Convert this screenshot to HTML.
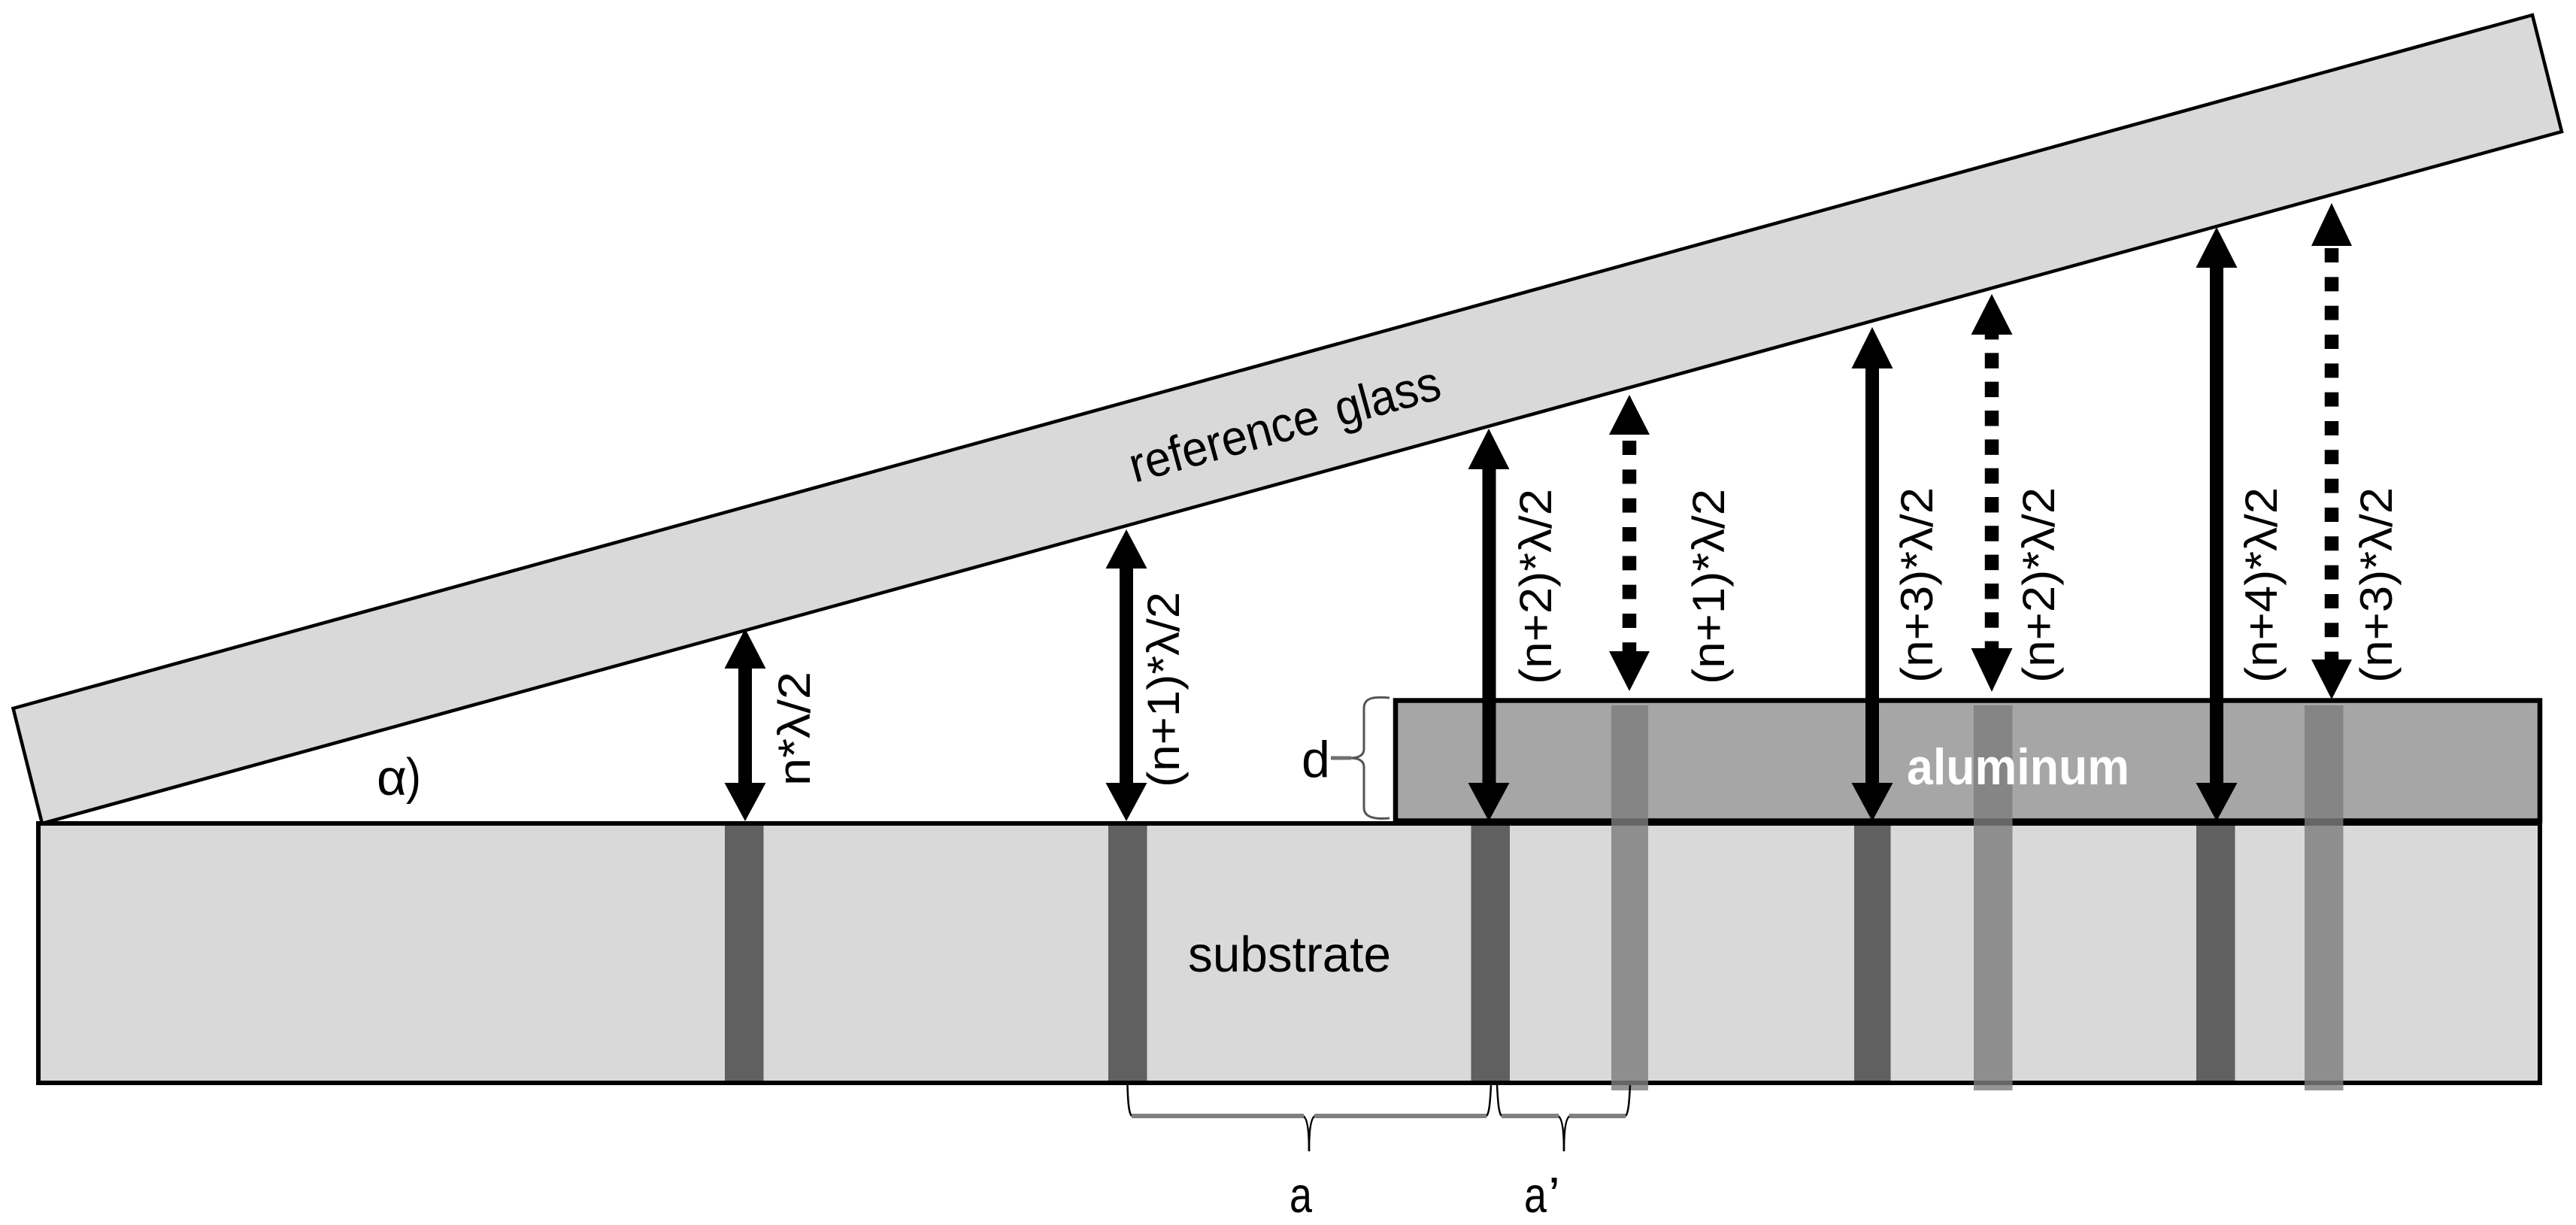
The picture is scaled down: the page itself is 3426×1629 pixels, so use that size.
<!DOCTYPE html>
<html>
<head>
<meta charset="utf-8">
<style>
html,body{margin:0;padding:0;background:#fff;width:3426px;height:1629px;overflow:hidden}
svg{display:block}
text{font-family:"Liberation Sans",sans-serif;fill:#000}
</style>
</head>
<body>
<svg width="3426" height="1629" viewBox="0 0 3426 1629" xmlns="http://www.w3.org/2000/svg">
<rect width="3426" height="1629" fill="#fff"/>

<!-- reference glass -->
<polygon points="17.5,942 3368,20 3407,175 56,1095" fill="#d9d9d9" stroke="#000" stroke-width="4.5" stroke-linejoin="miter"/>
<text x="1509" y="642" font-size="66" word-spacing="8" transform="rotate(-15.35 1509 642)" textLength="426" lengthAdjust="spacingAndGlyphs">reference glass</text>

<!-- aluminum -->
<rect x="1856" y="931.5" width="1522" height="160" fill="#a6a6a6" stroke="#000" stroke-width="6.5"/>
<!-- substrate -->
<rect x="51" y="1095" width="3327" height="345" fill="#d9d9d9" stroke="#000" stroke-width="6"/>

<!-- dark bands -->
<g fill="#606060">
<rect x="964" y="1098" width="51.5" height="339"/>
<rect x="1474" y="1098" width="51.5" height="339"/>
<rect x="1956.5" y="1098" width="51.5" height="339"/>
<rect x="2466" y="1098" width="48.5" height="339"/>
<rect x="2921" y="1098" width="51.5" height="339"/>
</g>
<!-- light bands -->
<g fill="#7d7d7d" fill-opacity="0.816">
<rect x="2143" y="938" width="49" height="512"/>
<rect x="2625" y="938" width="51.5" height="512"/>
<rect x="3065" y="938" width="51.5" height="512"/>
</g>

<!-- solid arrows -->
<g fill="#000" stroke="none">
<rect x="982" y="880" width="18" height="170"/>
<polygon points="991,836 1018.5,889 963.5,889"/>
<polygon points="991,1092 1018.5,1041 963.5,1041"/>

<rect x="1489" y="745" width="18" height="305"/>
<polygon points="1498,704 1525.5,756 1470.5,756"/>
<polygon points="1498,1092 1525.5,1041 1470.5,1041"/>

<rect x="1971.5" y="615" width="18" height="435"/>
<polygon points="1980,570 2007.5,624 1952.5,624"/>
<polygon points="1980,1092 2007.5,1041 1952.5,1041"/>

<rect x="2481" y="480" width="18" height="570"/>
<polygon points="2490,435 2517.5,490 2462.5,490"/>
<polygon points="2490,1092 2517.5,1041 2462.5,1041"/>

<rect x="2939" y="346" width="18" height="704"/>
<polygon points="2948,302 2975.5,356 2920.5,356"/>
<polygon points="2948,1092 2975.5,1041 2920.5,1041"/>

<!-- dotted arrow heads -->
<polygon points="2167,525 2194,578 2140,578"/>
<polygon points="2167,919 2194,866 2140,866"/>
<polygon points="2649,391 2676.5,445 2621.5,445"/>
<polygon points="2649,920 2676.5,862 2621.5,862"/>
<polygon points="3101,270 3128,327 3074,327"/>
<polygon points="3101,930 3128,877 3074,877"/>
</g>
<!-- dotted arrow shafts -->
<g stroke="#000" stroke-width="18.5" fill="none">
<line x1="2167" y1="586" x2="2167" y2="867" stroke-dasharray="19 19.33"/>
<line x1="2649" y1="431" x2="2649" y2="863" stroke-dasharray="20.5 17.83"/>
<line x1="3101" y1="330" x2="3101" y2="878" stroke-dasharray="19 19.33"/>
</g>

<!-- bottom braces -->
<g fill="none" stroke="#000" stroke-width="2.5">
<path d="M1499.5,1443 C1500,1462 1501,1480 1505,1484"/>
<path d="M1983,1443 C1982,1462 1981,1480 1977,1484"/>
<path d="M1991,1443 C1992,1462 1993,1480 1997,1484"/>
<path d="M2168,1443 C2167,1462 2166,1480 2162,1484"/>
<path d="M1733,1484 C1738,1486 1741,1500 1741,1531"/>
<path d="M1749,1484 C1744,1486 1741,1500 1741,1531"/>
<path d="M2072,1484 C2077,1486 2080,1500 2080,1531"/>
<path d="M2088,1484 C2083,1486 2080,1500 2080,1531"/>
</g>
<g fill="#808080">
<rect x="1505" y="1481" width="229" height="6"/>
<rect x="1748" y="1481" width="229" height="6"/>
<rect x="1997" y="1481" width="76" height="6"/>
<rect x="2087" y="1481" width="75" height="6"/>
</g>

<!-- d brace -->
<path d="M1848,928 C1826,926 1814,928 1814,942 L1814,996 C1814,1004 1808,1008 1795,1008 M1795,1008 C1808,1008 1814,1012 1814,1020 L1814,1074 C1814,1086 1826,1090 1848,1088" fill="none" stroke="#555" stroke-width="3"/>
<line x1="1770" y1="1008" x2="1797" y2="1008" stroke="#707070" stroke-width="5"/>

<!-- labels -->
<text x="501" y="1057" font-size="67" textLength="40" lengthAdjust="spacingAndGlyphs">α</text>
<text x="540" y="1055" font-size="67" textLength="20" lengthAdjust="spacingAndGlyphs">)</text>
<text x="1731" y="1033" font-size="68" textLength="38" lengthAdjust="spacingAndGlyphs">d</text>
<text x="1715" y="1612" font-size="67" textLength="30" lengthAdjust="spacingAndGlyphs">a</text>
<text x="2027" y="1612" font-size="67" textLength="30" lengthAdjust="spacingAndGlyphs">a</text>
<text x="2059" y="1612" font-size="67" textLength="16" lengthAdjust="spacingAndGlyphs">’</text>
<text x="1580" y="1292" font-size="67" textLength="270" lengthAdjust="spacingAndGlyphs">substrate</text>
<text x="2536" y="1043" font-size="68" font-weight="bold" textLength="296" lengthAdjust="spacingAndGlyphs" style="fill:#fff">aluminum</text>

<g font-size="60">
<text x="1077" y="1045" transform="rotate(-90 1077 1045)" textLength="152" lengthAdjust="spacingAndGlyphs">n*λ/2</text>
<text x="1568" y="1047" transform="rotate(-90 1568 1047)" textLength="260" lengthAdjust="spacingAndGlyphs">(n+1)*λ/2</text>
<text x="2063" y="910" transform="rotate(-90 2063 910)" textLength="260" lengthAdjust="spacingAndGlyphs">(n+2)*λ/2</text>
<text x="2293" y="910" transform="rotate(-90 2293 910)" textLength="260" lengthAdjust="spacingAndGlyphs">(n+1)*λ/2</text>
<text x="2570" y="908" transform="rotate(-90 2570 908)" textLength="260" lengthAdjust="spacingAndGlyphs">(n+3)*λ/2</text>
<text x="2732" y="908" transform="rotate(-90 2732 908)" textLength="260" lengthAdjust="spacingAndGlyphs">(n+2)*λ/2</text>
<text x="3028" y="908" transform="rotate(-90 3028 908)" textLength="260" lengthAdjust="spacingAndGlyphs">(n+4)*λ/2</text>
<text x="3181" y="908" transform="rotate(-90 3181 908)" textLength="260" lengthAdjust="spacingAndGlyphs">(n+3)*λ/2</text>
</g>
</svg>
</body>
</html>
